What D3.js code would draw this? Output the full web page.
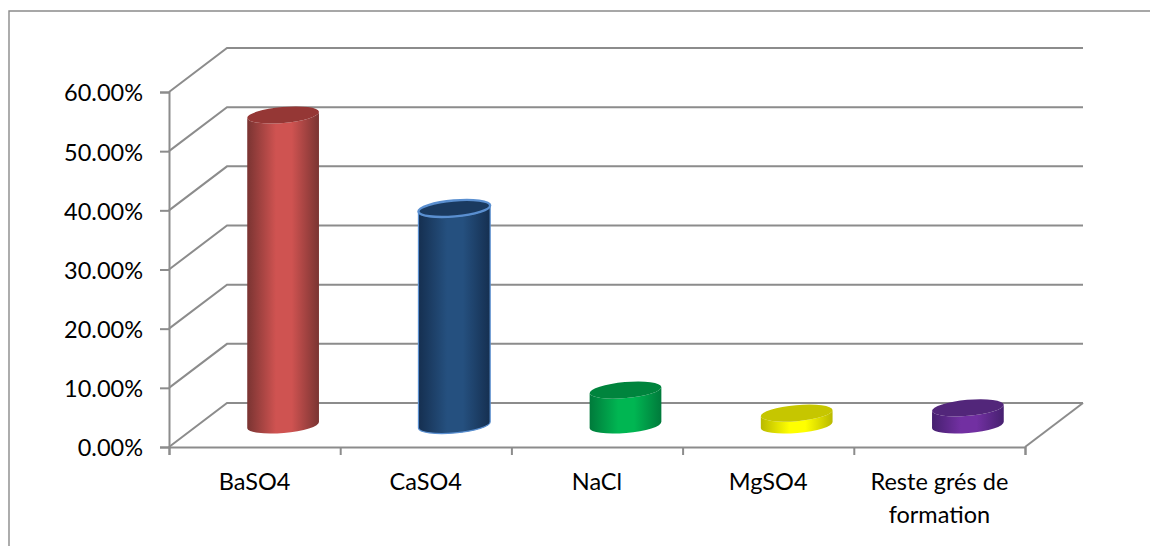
<!DOCTYPE html>
<html>
<head>
<meta charset="utf-8">
<script src="https://cdn.jsdelivr.net/npm/d3@7/dist/d3.min.js"></script>
<style>
  html, body { margin: 0; padding: 0; background: #fff; }
  svg { display: block; }
  text { font-family: Lato, "Open Sans", sans-serif; fill: #000; }
</style>
</head>
<body>
<svg id="chart" width="1150" height="546"></svg>
<script>
const categories = ["BaSO4", "CaSO4", "NaCl", "MgSO4", "Reste grés de formation"];
const shares = [0.524, 0.366, 0.059, 0.020, 0.029];
const yTicks = [0, 0.1, 0.2, 0.3, 0.4, 0.5, 0.6];
const edgeColors = ["#7a3432", "#152f50", "#007a3b", "#b9b900", "#46206f"];
const midColors = ["#cf5351", "#25507f", "#00b652", "#ffff00", "#7230a2"];
const capColors = ["#953735", "#1a3a60", "#00843d", "#c6c600", "#52267a"];
const rimColors = [null, "#5a8fd0", null, null, null];

const svg = d3.select("#chart");
const grid = "#8c8c8c";
const fontSize = 23.5;
const depthX = 58, depthY = -44;
const tilt = -5, rx = 36, ry = 8;

const x = d3.scaleBand().domain(categories).range([169, 1025]);
const y = d3.scaleLinear().domain([0, 0.6]).range([447, 92]);

// Outer frame: open at the bottom and running off the right edge
svg.append("path")
  .attr("d", "M9,546V11H1150")
  .attr("fill", "none").attr("stroke", "#8a8a8a").attr("stroke-width", 1.4);

// Back wall gridlines and their slanted continuation down the side wall
const walls = svg.append("g").attr("fill", "none").attr("stroke", grid).attr("stroke-width", 2);
walls.selectAll("path.wall").data(yTicks).join("path")
  .attr("class", "wall")
  .attr("d", d => `M${x.range()[0]},${y(d)}L${x.range()[0] + depthX},${y(d) + depthY}H${x.range()[1] + depthX}`);

// Right edge of the floor
walls.append("path")
  .attr("d", `M${x.range()[1]},${y(0)}L${x.range()[1] + depthX},${y(0) + depthY}`);

// Value axis
const yAxis = d3.axisLeft(y).tickValues(yTicks).tickSize(9).tickPadding(17)
  .tickFormat(d3.format(".2%"));
const yG = svg.append("g").attr("transform", `translate(${x.range()[0]},0)`).call(yAxis);

// Category axis, with ticks at the band boundaries
const edges = categories.map(c => x(c)).concat(x.range()[1]);
const xAxis = d3.axisBottom(d3.scaleLinear().domain([169, 1025]).range([169, 1025]))
  .tickValues(edges).tickSize(8).tickFormat("");
const xG = svg.append("g").attr("transform", `translate(0,${y(0)})`).call(xAxis);

[yG, xG].forEach(g => {
  g.selectAll(".domain, line").attr("stroke", grid).attr("stroke-width", 2);
  g.selectAll("text").attr("font-size", fontSize).attr("font-family", "Lato, sans-serif")
    .attr("fill", "#000").attr("dy", "0.38em");
});

// Category labels; the long one wraps onto a second line
const labels = svg.append("g").attr("text-anchor", "middle").attr("font-size", fontSize);
const wrapped = name => name.length > 12 ? [name.slice(0, 13), name.slice(14)] : [name];
labels.selectAll("text").data(categories).join("text")
  .attr("y", 490)
  .each(function (name) {
    d3.select(this).selectAll("tspan").data(wrapped(name)).join("tspan")
      .attr("x", x(name) + x.bandwidth() / 2)
      .attr("dy", (d, i) => i ? 32.5 : 0)
      .text(d => d);
  });

// Horizontal shading across each cylinder, flat through the lit middle
const defs = svg.append("defs");
categories.forEach((c, i) => {
  const g = defs.append("linearGradient").attr("id", `shade${i}`);
  g.append("stop").attr("offset", "0%").attr("stop-color", edgeColors[i]);
  g.append("stop").attr("offset", "40%").attr("stop-color", midColors[i]);
  g.append("stop").attr("offset", "62%").attr("stop-color", midColors[i]);
  g.append("stop").attr("offset", "100%").attr("stop-color", edgeColors[i]);
});

// Cylinders stand halfway into the floor depth
const rad = tilt * Math.PI / 180;
const ex = rx * Math.cos(rad), ey = rx * Math.sin(rad);
const bars = svg.append("g").selectAll("g").data(categories).join("g");
bars.each(function (c, i) {
  const cx = x(c) + x.bandwidth() / 2 + depthX / 2 - 0.5;
  const base = y(0) + depthY / 2;
  const top = y(shares[i]) + depthY / 2;
  const g = d3.select(this);
  g.append("path")
    .attr("d", `M${cx - ex},${top - ey}L${cx - ex},${base - ey}` +
      `A${rx},${ry},${tilt},0,0,${cx + ex},${base + ey}L${cx + ex},${top + ey}` +
      `A${rx},${ry},${tilt},0,1,${cx - ex},${top - ey}Z`)
    .attr("fill", `url(#shade${i})`)
    .attr("stroke", rimColors[i] || "none").attr("stroke-width", 1.2);
  g.append("ellipse")
    .attr("rx", rx).attr("ry", ry)
    .attr("transform", `translate(${cx},${top}) rotate(${tilt})`)
    .attr("fill", capColors[i])
    .attr("stroke", rimColors[i] || "none").attr("stroke-width", 2.4);
});
</script>
</body>
</html>
